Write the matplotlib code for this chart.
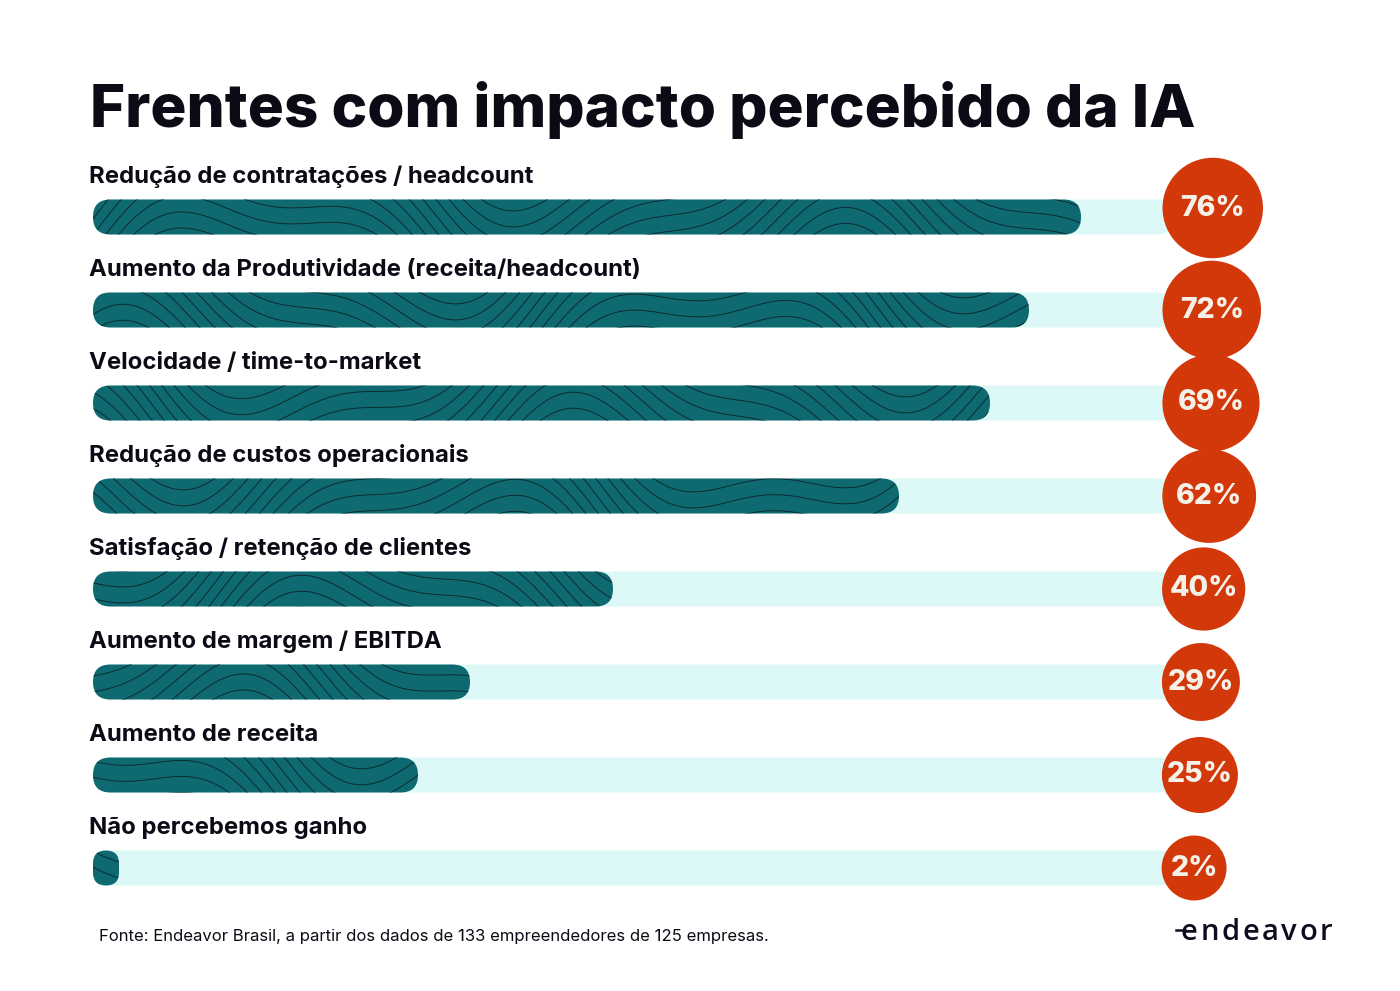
import numpy as np
import matplotlib
matplotlib.use("Agg")
import matplotlib.pyplot as plt
from matplotlib.patches import FancyBboxPatch

# ---------------- data ----------------
title = "Frentes com impacto percebido da IA"
categories = [
    "Redução de contratações / headcount",
    "Aumento da Produtividade (receita/headcount)",
    "Velocidade / time-to-market",
    "Redução de custos operacionais",
    "Satisfação / retenção de clientes",
    "Aumento de margem / EBITDA",
    "Aumento de receita",
    "Não percebemos ganho",
]
values = [76, 72, 69, 62, 40, 29, 25, 2]
value_labels = ["76%", "72%", "69%", "62%", "40%", "29%", "25%", "2%"]
source = "Fonte: Endeavor Brasil, a partir dos dados de 133 empreendedores de 125 empresas."
brand = "endeavor"

# ---------------- style / layout ----------------
W, H, DPI = 1400, 991, 100
TEAL = "#0e6a70"
TRACK = "#dcf9f8"
ORANGE = "#d2380a"
LINE = "#0a2b30"
TXT = "#0b0b16"
PCT_TXT = "#f4f1e8"

PX_PER_PCT = 13.0
PX_PER_ROW = 93.0
X0_PX = 93.0
Y0_PX = 217.0
BAR_H_PX = 35.0
TRACK_END = 83.2

FONT = "Inter"

fig = plt.figure(figsize=(W / DPI, H / DPI), dpi=DPI)
fig.patch.set_facecolor("white")
ax = fig.add_axes([0, 0, 1, 1])
ax.set_xlim(-X0_PX / PX_PER_PCT, (W - X0_PX) / PX_PER_PCT)
ax.set_ylim((H - Y0_PX) / PX_PER_ROW, -Y0_PX / PX_PER_ROW)
ax.axis("off")

BAR_H = BAR_H_PX / PX_PER_ROW
ROUND = (BAR_H_PX / 2) / PX_PER_PCT
ASPECT = PX_PER_PCT / PX_PER_ROW


def rounded(x, y, w, h, fc, z):
    r = min(ROUND, w / 2)
    p = FancyBboxPatch((x, y), w, h, boxstyle=f"round,pad=0,rounding_size={r}",
                       mutation_aspect=ASPECT, fc=fc, ec="none", zorder=z)
    ax.add_patch(p)
    return p


for i, (cat, v, lab) in enumerate(zip(categories, values, value_labels)):
    # background track
    rounded(0, i - BAR_H / 2, TRACK_END, BAR_H, TRACK, 1)
    # value bar
    patch = rounded(0, i - BAR_H / 2, v, BAR_H, TEAL, 2)
    # topographic texture clipped to the bar
    xs = np.linspace(0, v, max(60, int(v * 8)))
    ys = np.linspace(i - BAR_H / 2 - 0.05, i + BAR_H / 2 + 0.05, 50)
    XX, YY = np.meshgrid(xs, ys)
    xp, yp = XX * PX_PER_PCT, YY * PX_PER_ROW
    F = yp + 70 * np.sin(xp / 95 + 1.3 * i) + 22 * np.sin(xp / 37 + 0.7 * i)
    cs = ax.contour(XX, YY, F, levels=np.arange(F.min(), F.max(), 16),
                    colors=LINE, linewidths=0.7, zorder=3,
                    negative_linestyles="solid")
    cs.set_clip_path(patch)

    # category label
    ax.text(-0.3, i - 34 / PX_PER_ROW, cat, fontsize=17.2, fontweight="bold",
            family=FONT, color=TXT, va="baseline", ha="left")

    # value circle
    r_px = 32 + 0.24 * v
    cx = (1160 + 1.05 * r_px - X0_PX) / PX_PER_PCT
    cy = i - (9 / PX_PER_ROW if i == 0 else 0)
    ax.scatter([cx], [cy], s=(2 * r_px * 72 / DPI) ** 2, color=ORANGE,
               edgecolors="none", zorder=5)
    ax.text(cx, cy, lab, fontsize=20.5, fontweight="heavy", family=FONT,
            color=PCT_TXT, ha="center", va="center", zorder=6)

# title
fig.text(90 / W, 1 - 127 / H, title, fontsize=43.3, fontweight="heavy",
         family=FONT, color=TXT, va="baseline", ha="left")
# source
fig.text(99 / W, 1 - 941 / H, source, fontsize=12, family=FONT,
         color=TXT, va="baseline", ha="left")

# brand wordmark with letter spacing
renderer = fig.canvas.get_renderer()
x_px = 1181.0
BRAND_TRACKING = 2.6
for ch in brand:
    t = fig.text(x_px / W, 1 - 940 / H, ch, fontsize=21, family="Open Sans",
                 fontweight="semibold", color="#0d0d1f", va="baseline", ha="left")
    bb = t.get_window_extent(renderer)
    x_px += bb.width + BRAND_TRACKING
# small tail on the leading "e"
fig.add_artist(plt.Line2D([1176 / W, 1185 / W], [1 - 930 / H, 1 - 930 / H],
                          color="#0d0d1f", lw=1.8))

fig.savefig("out.png", dpi=DPI, facecolor="white")
